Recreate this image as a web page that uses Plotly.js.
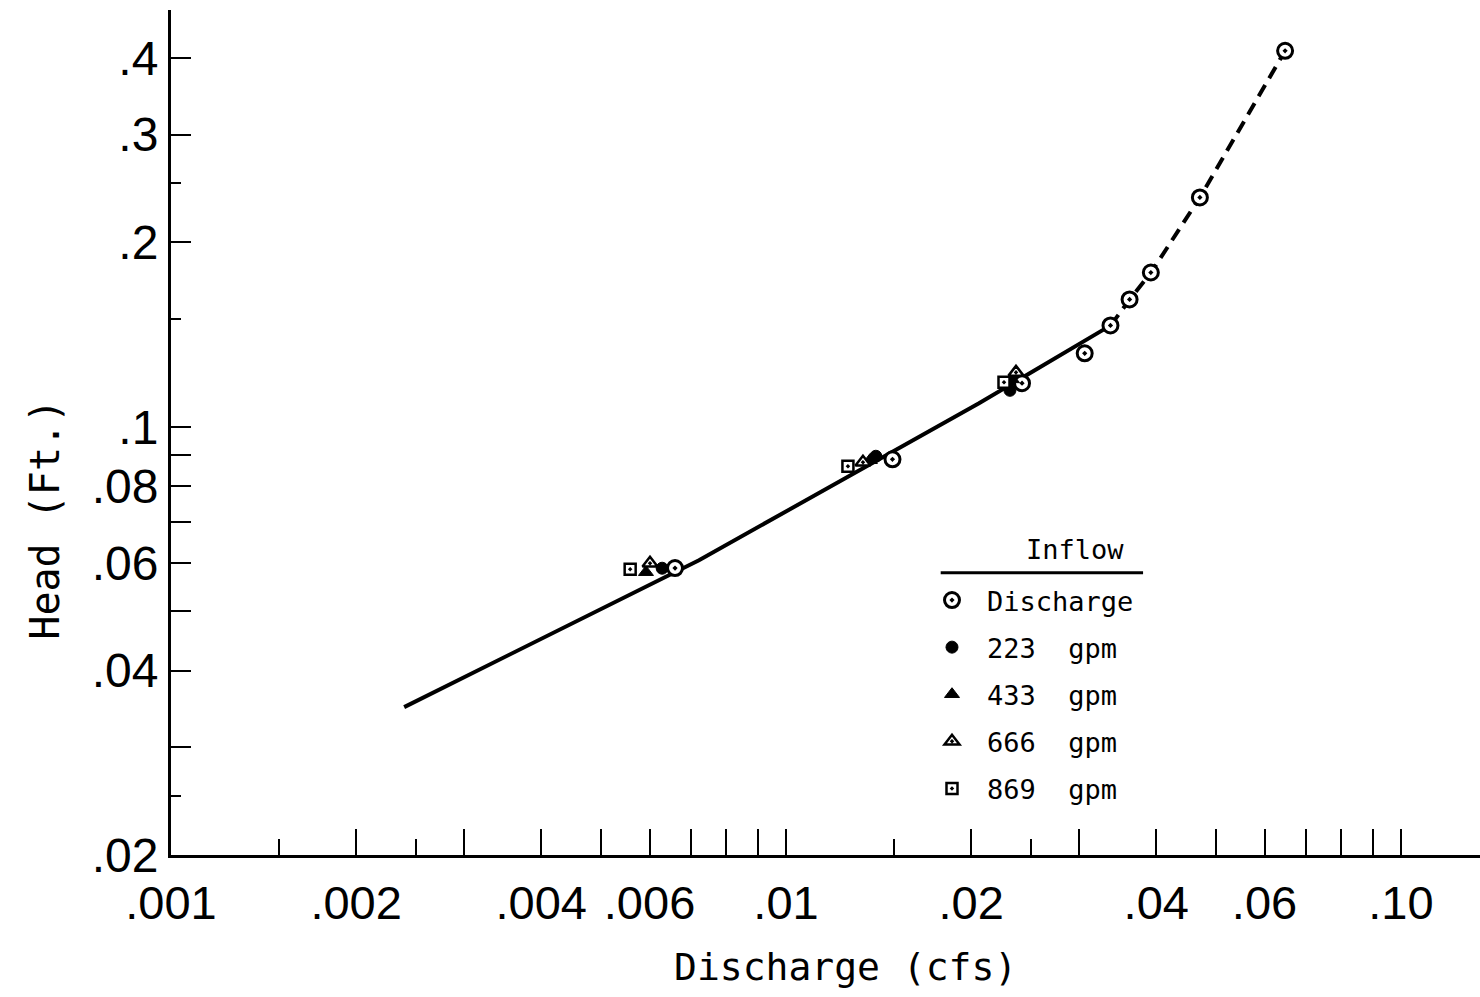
<!DOCTYPE html>
<html>
<head>
<meta charset="utf-8">
<script src="https://cdn.plot.ly/plotly-3.0.1.min.js"></script>
<style>html,body{margin:0;padding:0;background:#fff;}#chart{width:1480px;height:997px;}</style>
</head>
<body>
<div id="chart"></div>
<script>
// ---- data (discharge in cfs, head in ft) ----
const dischargeQ = [0.0066, 0.0149, 0.0242, 0.0306, 0.0337, 0.0362, 0.0392, 0.0471, 0.0648];
const dischargeH = [0.0588, 0.0885, 0.1178, 0.1318, 0.1464, 0.1614, 0.1786, 0.2368, 0.411];
const gpm223Q = [0.00629, 0.0140, 0.02313];
const gpm223H = [0.05877, 0.08953, 0.1147];
const gpm433Q = [0.00592, 0.01369, 0.02331];
const gpm433H = [0.0579, 0.0882, 0.1195];
const gpm666Q = [0.00601, 0.01334, 0.02366];
const gpm666H = [0.05988, 0.08753, 0.1227];
const gpm869Q = [0.00558, 0.01261, 0.02262];
const gpm869H = [0.05856, 0.08622, 0.1182];
const fitSolidQ = [0.002394, 0.00722, 0.0206, 0.03373];
const fitSolidH = [0.03487, 0.06056, 0.10926, 0.1464];
const fitDashQ = [0.03373, 0.03622, 0.03923, 0.0471, 0.0648];
const fitDashH = [0.1464, 0.1614, 0.1786, 0.2368, 0.411];

const xTickVals = [0.001,0.002,0.003,0.004,0.005,0.006,0.007,0.008,0.009,0.01,0.02,0.03,0.04,0.05,0.06,0.07,0.08,0.09,0.1];
const xTickText = ['.001','.002','','.004','','.006','','','','.01','.02','','.04','','.06','','','','.10'];
const xMinorVals = [0.0015,0.0025,0.015,0.025];
const yTickVals = [0.02,0.03,0.04,0.05,0.06,0.07,0.08,0.09,0.1,0.2,0.3,0.4];
const yTickText = ['.02','','.04','','.06','','.08','','.1','.2','.3','.4'];
const yMinorVals = [0.025,0.15,0.25];

const legendNames = ['Discharge','223  gpm','433  gpm','666  gpm','869  gpm'];

const numFont = 'Liberation Sans, Arial, sans-serif';
const letFont = 'DejaVu Sans Mono, monospace';

const traces = [
  {x: fitSolidQ, y: fitSolidH, mode: 'lines', line: {color: 'black', width: 4}, showlegend: false, hoverinfo: 'skip'},
  {x: fitDashQ, y: fitDashH, mode: 'lines', line: {color: 'black', width: 4, dash: '13px,8px'}, showlegend: false, hoverinfo: 'skip'},
  {x: dischargeQ, y: dischargeH, name: legendNames[0], legendgroup: 'gdis', legendrank: 1, mode: 'markers', marker: {symbol: 'circle-dot', size: 15, color: 'white', line: {color: 'black', width: 3}}},
  {x: gpm223Q, y: gpm223H, name: legendNames[1], legendgroup: 'g223', legendrank: 2, mode: 'markers', marker: {symbol: 'circle', size: 12, color: 'black', line: {color: 'black', width: 1}}},
  {x: gpm433Q, y: gpm433H, name: legendNames[2], legendgroup: 'g433', legendrank: 3, mode: 'markers', marker: {symbol: 'triangle-up', size: 13, color: 'black', line: {color: 'black', width: 1}}},
  {x: gpm666Q, y: gpm666H, name: legendNames[3], legendgroup: 'g666', legendrank: 4, mode: 'markers', marker: {symbol: 'triangle-up-dot', size: 13, color: 'white', line: {color: 'black', width: 2.5}}},
  {x: gpm869Q, y: gpm869H, name: legendNames[4], legendgroup: 'g869', legendrank: 5, mode: 'markers', marker: {symbol: 'square-dot', size: 11, color: 'white', line: {color: 'black', width: 2.5}}}
];

const layout = {
  width: 1480, height: 997,
  margin: {l: 171, r: 0, t: 10, b: 142},
  paper_bgcolor: 'white', plot_bgcolor: 'white',
  showlegend: true,
  legend: {
    x: 0.5699, y: 0.3302, xanchor: 'left', yanchor: 'top',
    traceorder: 'grouped', tracegroupgap: 9, itemwidth: 60,
    font: {family: letFont, size: 27, color: 'black'},
    bgcolor: 'rgba(0,0,0,0)', borderwidth: 0, itemsizing: 'trace'
  },
  xaxis: {
    type: 'log', range: [-3, -0.8715], autorange: false,
    showline: true, linecolor: 'black', linewidth: 3,
    showgrid: false, zeroline: false,
    ticks: 'inside', ticklen: 26, tickwidth: 2, tickcolor: 'black',
    tickmode: 'array', tickvals: xTickVals, ticktext: xTickText,
    tickfont: {family: numFont, size: 47, color: 'black'},
    minor: {tickmode: 'array', tickvals: xMinorVals, ticks: 'inside', ticklen: 16, tickwidth: 2, tickcolor: 'black', showgrid: false},
    ticklabelstandoff: 5
  },
  yaxis: {
    type: 'log', range: [Math.log10(0.02), Math.log10(0.02) + 845/612.6], autorange: false,
    showline: true, linecolor: 'black', linewidth: 3,
    showgrid: false, zeroline: false,
    ticks: 'inside', ticklen: 20, tickwidth: 2, tickcolor: 'black',
    tickmode: 'array', tickvals: yTickVals, ticktext: yTickText,
    tickfont: {family: numFont, size: 48, color: 'black'},
    minor: {tickmode: 'array', tickvals: yMinorVals, ticks: 'inside', ticklen: 10, tickwidth: 2, tickcolor: 'black', showgrid: false},
    ticklabelstandoff: 0
  },
  annotations: [
    {text: 'Discharge (cfs)', xref: 'paper', yref: 'paper', x: 0.515, y: -0.1325, xanchor: 'center', yanchor: 'middle', showarrow: false,
     font: {family: letFont, size: 38, color: 'black'}},
    {text: 'Head (Ft.)', xref: 'paper', yref: 'paper', x: -0.0963, y: 0.398, xanchor: 'center', yanchor: 'middle', textangle: -90, showarrow: false,
     font: {family: letFont, size: 40, color: 'black'}},
    {text: 'Inflow', xref: 'paper', yref: 'paper', x: 0.6906, y: 0.362, xanchor: 'center', yanchor: 'middle', showarrow: false,
     font: {family: letFont, size: 27, color: 'black'}}
  ],
  shapes: [
    {type: 'line', xref: 'paper', yref: 'paper', x0: 0.588, x1: 0.7426, y0: 0.334, y1: 0.334, line: {color: 'black', width: 3}}
  ]
};

Plotly.newPlot('chart', traces, layout, {displayModeBar: false, staticPlot: true});
</script>
</body>
</html>
